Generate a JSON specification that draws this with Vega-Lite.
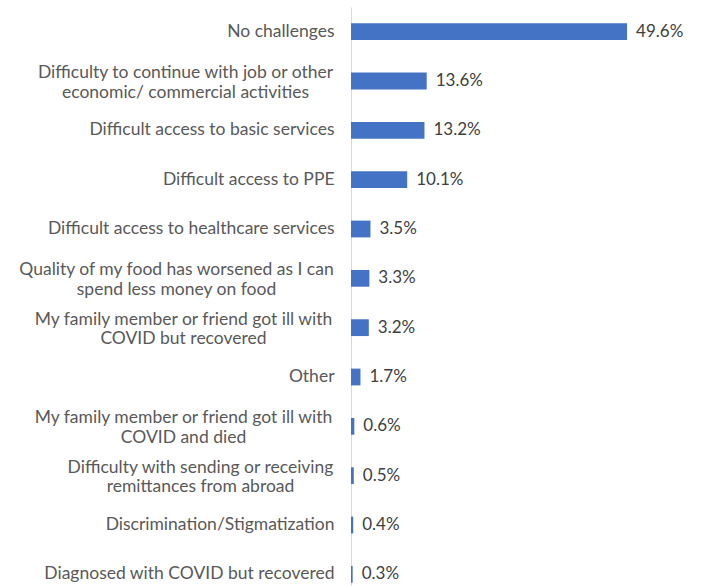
{
  "$schema": "https://vega.github.io/schema/vega-lite/v6.json",
  "autosize": "none",
  "width": 351,
  "height": 592,
  "padding": {"left": 351, "top": 7, "right": 0, "bottom": 0},
  "background": "white",
  "config": {"view": {"stroke": null}, "font": "Lato"},
  "data": {"values": [
    {"challenge": "No challenges", "pct": 49.6},
    {"challenge": "Difficulty to continue with job or other|economic/ commercial activities", "pct": 13.6},
    {"challenge": "Difficult access to basic services", "pct": 13.2},
    {"challenge": "Difficult access to PPE", "pct": 10.1},
    {"challenge": "Difficult access to healthcare services", "pct": 3.5},
    {"challenge": "Quality of my food has worsened as I can|spend less money on food", "pct": 3.3},
    {"challenge": "My family member or friend got ill with|COVID but recovered", "pct": 3.2},
    {"challenge": "Other", "pct": 1.7},
    {"challenge": "My family member or friend got ill with|COVID and died", "pct": 0.6},
    {"challenge": "Difficulty with sending or receiving|remittances from abroad", "pct": 0.5},
    {"challenge": "Discrimination/Stigmatization", "pct": 0.4},
    {"challenge": "Diagnosed with COVID but recovered", "pct": 0.3}
  ]},
  "encoding": {
    "y": {
      "field": "challenge", "type": "nominal", "sort": "-x",
      "scale": {"paddingInner": 0.66, "paddingOuter": 0.33},
      "axis": {
        "title": null, "ticks": false, "domainColor": "#D9D9D9", "domainWidth": 1,
        "labelExpr": "split(datum.label, '|')",
        "labelFont": "Lato", "labelFontSize": 17.5, "labelColor": "#595959",
        "labelLimit": 400, "labelLineHeight": 19.5,
        "labelAlign": {"condition": {"test": "indexof(datum.value, '|') >= 0", "value": "center"}, "value": "right"},
        "labelOffset": {"condition": {"test": "indexof(datum.value, '|') >= 0", "value": -8}, "value": 0},
        "labelPadding": {"condition": [
          {"test": "indexof(datum.value, 'Difficulty to continue') === 0", "value": 166},
          {"test": "indexof(datum.value, 'Quality of my food') === 0", "value": 175},
          {"test": "indexof(datum.value, 'My family member') === 0", "value": 168},
          {"test": "indexof(datum.value, 'Difficulty with sending') === 0", "value": 151}
        ], "value": 17}
      }
    },
    "x": {
      "field": "pct", "type": "quantitative",
      "scale": {"domain": [0, 63.07], "nice": false},
      "axis": null
    }
  },
  "layer": [
    {"mark": {"type": "bar", "color": "#4472C4"}},
    {"mark": {"type": "text", "align": "left", "dx": 9, "fontSize": 17, "font": "Lato", "color": "#404040"},
     "encoding": {"text": {"value": {"expr": "format(datum.pct, '.1f') + '%'"}}}}
  ]
}
